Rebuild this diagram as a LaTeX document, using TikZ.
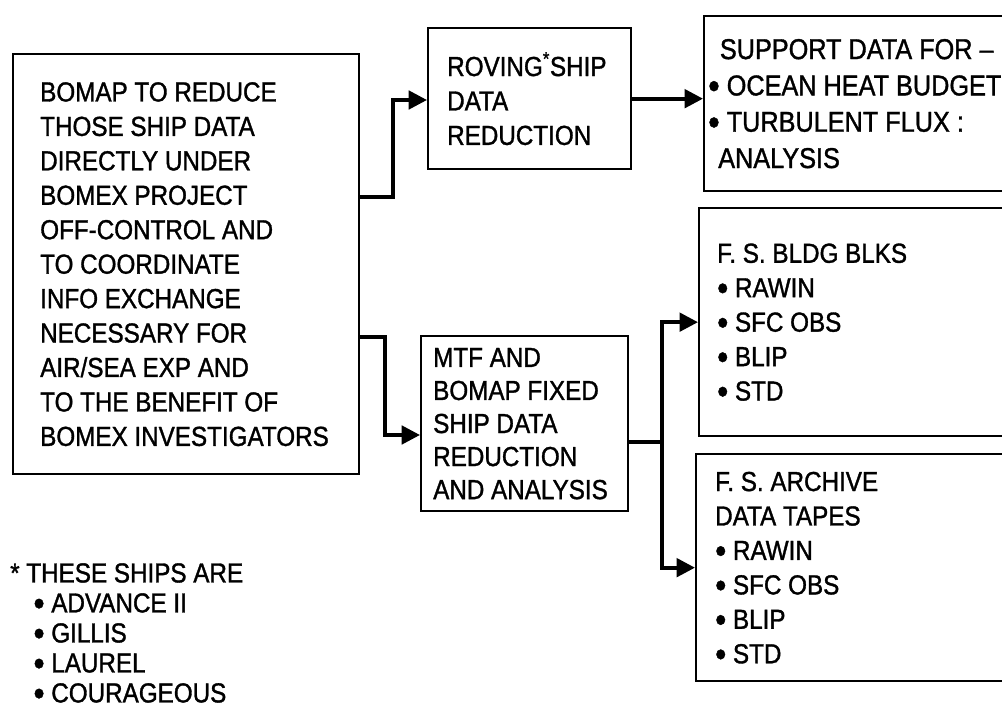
\documentclass[tikz,border=0pt]{standalone}
\usepackage{fontspec}
\setmainfont{Liberation Sans}[FakeStretch=0.88, FakeBold=1.2]
\usetikzlibrary{positioning, calc, arrows.meta}

\newcommand{\blt}{\smash{\raisebox{-0.11em}{\scalebox{1.3}{•}}}}

\tikzset{
  box/.style={draw, line width=2pt, anchor=north west, inner sep=0pt},
  txt/.style={anchor=west, align=left, inner sep=0pt, font=\fontsize{23.5}{29.4}\selectfont},
  link/.style={line width=3.2pt},
  tip/.style={-{Triangle[length=0.55cm,width=0.55cm]}}
}

\begin{document}
\begin{tikzpicture}[x=0.03cm, y=-0.03cm]
    \useasboundingbox (0,0) rectangle (1002,711);
    \clip (0,0) rectangle (1002,711);

    % Boxes
    \node[box, minimum width=10.38cm, minimum height=12.6cm] (main) at (12,53) {};
    \node[box, minimum width=6.09cm, minimum height=4.23cm] (rov) at (427,27) {};
    \node[box, minimum width=6.21cm, minimum height=5.25cm] (mtf) at (420,335) {};
    \node[box, minimum width=9.6cm, minimum height=5.25cm] (sup) at (703,15) {};
    \node[box, minimum width=9.6cm, minimum height=6.84cm] (bldg) at (698,207) {};
    \node[box, minimum width=9.6cm, minimum height=6.81cm] (arch) at (695,453) {};

    % Box texts
    \node[txt] (maintxt) at ([xshift=0.84cm]main.west) {BOMAP TO REDUCE\\ THOSE SHIP DATA\\ DIRECTLY UNDER\\ BOMEX PROJECT\\ OFF-CONTROL AND\\ TO COORDINATE\\ INFO EXCHANGE\\ NECESSARY FOR\\ AIR/SEA EXP AND\\ TO THE BENEFIT OF\\ BOMEX INVESTIGATORS};
    \node[txt] (rovtxt) at ([xshift=0.6cm]rov.west) {ROVING\textsuperscript{*}SHIP\\ DATA\\ REDUCTION};
    \node[txt, font=\fontsize{23.5}{28.2}\selectfont] (mtftxt) at ([xshift=0.39cm]mtf.west) {MTF AND\\ BOMAP FIXED\\ SHIP DATA\\ REDUCTION\\ AND ANALYSIS};
    \node[txt, font=\fontsize{24.5}{31}\selectfont] (suptxt) at ([xshift=0.15cm]sup.west) {\hspace*{0.35cm}SUPPORT DATA FOR --\\ \blt\ OCEAN HEAT BUDGET\\ \blt\ TURBULENT FLUX :\\ \hspace*{0.3cm}ANALYSIS};
    \node[txt] (bldgtxt) at ([xshift=0.57cm]bldg.west) {F. S. BLDG BLKS\\ \blt\ RAWIN\\ \blt\ SFC OBS\\ \blt\ BLIP\\ \blt\ STD};
    \node[txt] (archtxt) at ([xshift=0.6cm]arch.west) {F. S. ARCHIVE\\ DATA TAPES\\ \blt\ RAWIN\\ \blt\ SFC OBS\\ \blt\ BLIP\\ \blt\ STD};

    % Footnote
    \node[txt, anchor=north west, font=\fontsize{23.5}{25.6}\selectfont] (note) at (10,563) {* THESE SHIPS ARE\\ \hspace*{0.7cm}\blt\ ADVANCE II\\ \hspace*{0.7cm}\blt\ GILLIS\\ \hspace*{0.7cm}\blt\ LAUREL\\ \hspace*{0.7cm}\blt\ COURAGEOUS};

    % Connectors
    \coordinate (upA) at (393,197);
    \coordinate (upB) at (393,100);
    \coordinate (dnA) at (385,337);
    \coordinate (dnB) at (385,435);
    \coordinate (fork) at (662,442);
    \draw[link, tip] (main.east |- upA) -- (upA) -- (upB) -- (rov.west |- upB);
    \draw[link, tip] (main.east |- dnA) -- (dnA) -- (dnB) -- (mtf.west |- dnB);
    \draw[link, tip] (rov.east) -- (rov.east -| sup.west);
    \draw[link] (mtf.east |- fork) -- (fork);
    \draw[link, tip] (fork) |- (bldg.west);
    \draw[link, tip] (fork) |- (arch.west);
\end{tikzpicture}
\end{document}
